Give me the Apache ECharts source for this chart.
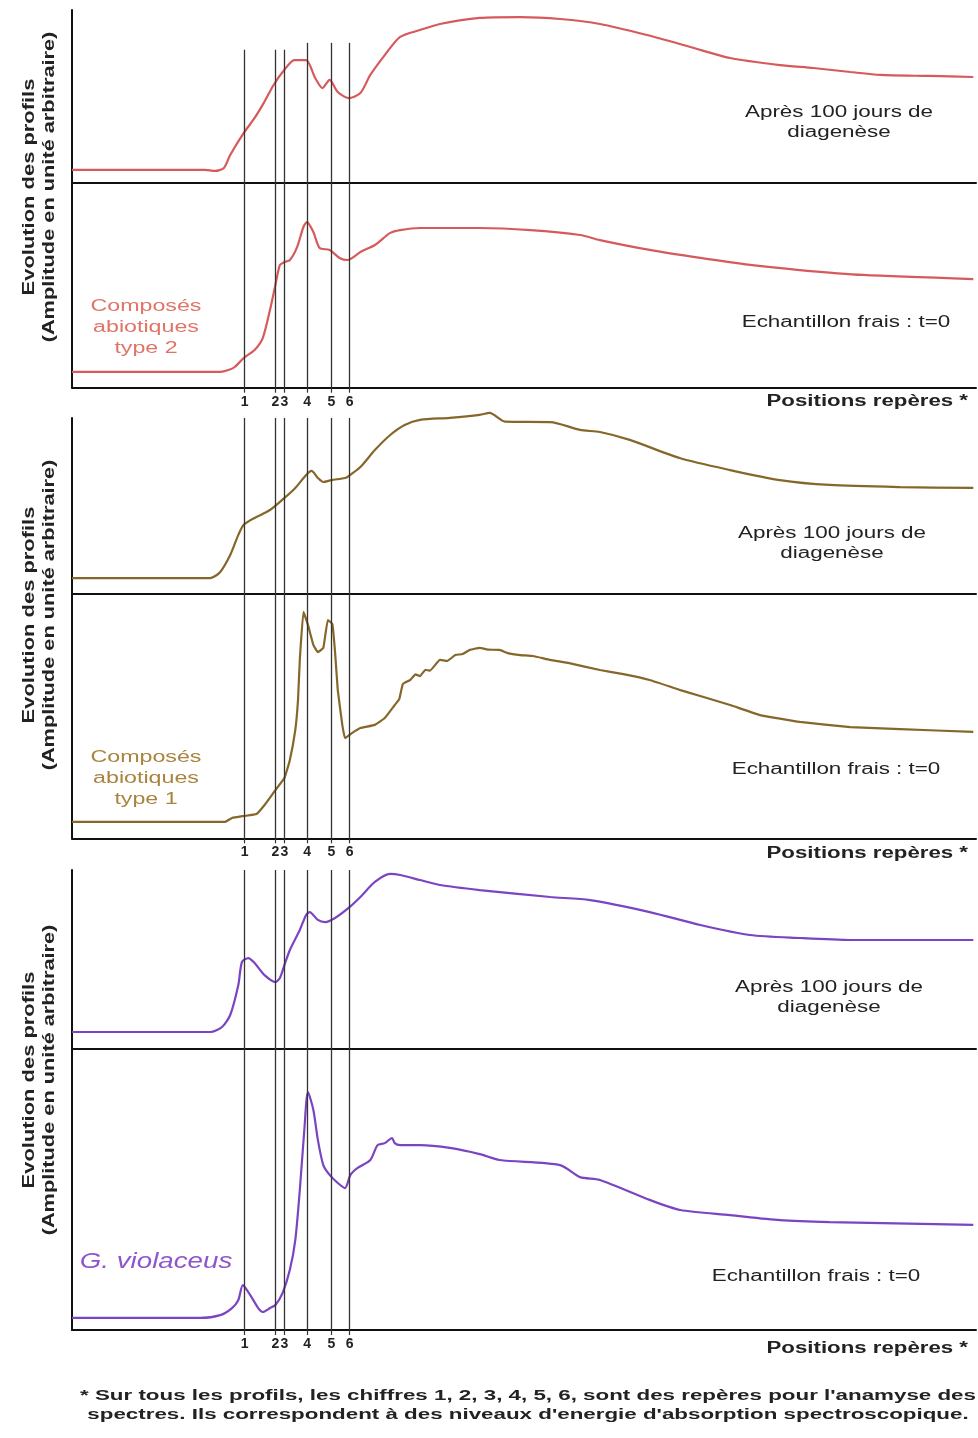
<!DOCTYPE html>
<html>
<head>
<meta charset="utf-8">
<script src="https://cdn.jsdelivr.net/npm/echarts@6/dist/echarts.min.js"></script>
<style>
html,body{margin:0;padding:0;background:#fff;}
#chart{width:978px;height:1438px;}
</style>
</head>
<body>
<div id="chart"></div>
<script>
// Reference positions (x, arbitrary position units 0-100) and their labels
const MARK_POS = [19.1, 22.5, 23.5, 26.0, 28.7, 30.7];
const MARK_LABELS = ['1', '2', '3', '4', '5', '6'];
// Top of the marker lines in the first "after" panel (amplitude units)
const MARK_TOP_P1 = [77, 77, 77, 81, 81, 81];

// Abiotic compounds type 2 – after 100 days of diagenesis
const type2After = [[0,7.4],[14.7,7.4],[15.8,6.8],[16.8,8.5],[17.5,16],[19.0,28.8],[20.2,37.5],[21.2,46.1],[22.3,56.6],[23.3,64.1],[24.6,71],[25.9,71],[26.9,60.6],[27.7,54.8],[28.5,59.5],[29.4,52.5],[30.6,49],[31.9,51.9],[33.0,62.4],[34.6,73.9],[36.3,84.4],[38.5,88.4],[40.7,91.9],[45.1,95.4],[49.6,95.9],[54.0,94.8],[58.4,91.9],[63.6,85.5],[68.4,78.6],[72.8,72.2],[78.3,68.1],[82.0,66.4],[86.1,64.1],[89.4,62.4],[94.9,61.8],[99.7,61.2]];
// Abiotic compounds type 2 – fresh sample
const type2Fresh = [[0,7.7],[16.4,7.7],[17.3,8.6],[18.0,10.1],[19.0,14.5],[20.2,18.4],[21.1,24.2],[21.9,37.9],[22.5,50.1],[23.0,59.9],[23.5,61.3],[24.1,62.3],[24.9,68.6],[25.6,78.4],[26.0,80.8],[26.7,75.9],[27.4,68.1],[28.5,67.2],[29.6,63.3],[30.5,62.3],[31.9,66.2],[33.5,69.6],[35.2,75.5],[36.3,76.9],[38.5,77.9],[45.1,77.9],[50.7,76.9],[56.2,74.5],[58.4,72.0],[63.9,67.2],[69.5,63.3],[75.0,59.9],[80.5,57.4],[87.5,55.0],[99.7,53.0]];
// Abiotic compounds type 1 – after 100 days
const type1After = [[0,8.7],[15.3,8.7],[16.4,12.2],[17.5,21.8],[18.4,33.3],[19.0,39.1],[20.2,43.0],[21.9,47.5],[23.5,54.4],[24.7,60.1],[25.9,67.5],[26.5,69.8],[27.2,65.8],[27.8,63.5],[28.7,64.6],[30.2,65.8],[30.6,66.9],[31.9,72.0],[33.5,81.7],[35.2,90.3],[36.8,96.0],[38.5,98.9],[41.8,100.1],[45.1,101.8],[46.2,102.9],[47.9,97.9],[52.9,97.7],[56.2,93.2],[58.4,92.0],[61.7,87.5],[67.3,77.0],[72.8,70.3],[78.3,64.6],[83.8,61.8],[91.6,60.6],[99.7,60.1]];
// Abiotic compounds type 1 – fresh sample
const type1Fresh = [[0,6.7],[16.9,6.7],[17.7,8.3],[19.0,9.1],[20.4,9.9],[21.3,13.6],[22.5,19.7],[23.5,24.6],[24.1,32.0],[24.7,44.2],[25.0,56.4],[25.2,72.8],[25.6,92.4],[26.1,87.1],[26.7,78.9],[27.2,76.0],[27.8,77.7],[28.3,89.1],[28.8,87.5],[29.1,76.0],[29.4,60.5],[29.9,46.3],[30.2,40.9],[31.0,43.0],[31.9,45.0],[33.5,46.3],[34.6,49.1],[35.7,54.4],[36.2,56.8],[36.6,63.0],[37.4,64.6],[38.0,66.9],[38.5,66.2],[39.1,68.8],[39.6,68.4],[40.7,72.8],[41.5,72.4],[42.4,74.8],[43.2,75.2],[44.0,76.9],[45.1,77.7],[46.0,77.0],[47.3,76.9],[48.2,75.6],[49.6,74.8],[51.0,74.4],[52.9,72.8],[55.0,71.5],[58.4,68.7],[61.0,67.0],[63.9,64.6],[67.3,60.5],[72.8,54.4],[76.1,50.3],[80.5,47.5],[86.1,45.4],[91.6,44.6],[99.7,43.4]];
// G. violaceus – after 100 days
const violAfter = [[0,9.5],[15.3,9.5],[16.6,12.3],[17.5,19.0],[18.4,35.8],[18.8,48.6],[19.5,50.8],[20.2,48.0],[21.3,41.3],[22.5,37.4],[23.0,39.7],[23.5,46.9],[24.1,55.3],[25.2,66.5],[25.9,74.9],[26.3,76.5],[27.2,72.1],[28.0,70.9],[29.1,73.2],[30.6,78.8],[31.9,84.9],[33.5,93.3],[35.2,97.8],[36.3,97.2],[38.5,94.4],[40.7,91.6],[45.1,88.8],[52.9,84.9],[57.3,83.2],[63.9,76.5],[69.5,69.3],[75.0,63.7],[80.5,62.0],[86.1,60.9],[99.7,60.9]];
// G. violaceus – fresh sample
const violFresh = [[0,4.3],[14.2,4.3],[16.4,5.3],[17.7,7.8],[18.4,10.7],[18.9,16.0],[19.7,12.5],[20.6,7.8],[21.1,6.4],[21.9,7.8],[22.5,8.9],[23.3,13.2],[24.1,21.4],[24.7,32.0],[25.2,49.8],[25.7,71.2],[26.1,84.7],[26.7,78.3],[27.2,67.6],[27.8,58.7],[28.5,55.2],[29.4,52.3],[30.2,50.5],[30.8,55.2],[31.6,57.7],[33.0,60.5],[33.8,65.8],[34.6,66.5],[35.4,68.3],[35.7,66.5],[36.3,65.8],[38.5,65.8],[41.8,64.8],[45.1,62.6],[47.3,60.5],[54.0,58.7],[56.2,54.4],[58.4,53.4],[63.9,46.3],[67.3,42.7],[72.8,40.9],[78.3,39.1],[83.8,38.4],[99.7,37.4]];

const RED = '#d65a5c', BROWN = '#85672a', PURPLE = '#7a44c2';

const grids = [
  {left:72, right:2, top:10,    height:172.7},
  {left:72, right:2, top:182.7, height:205},
  {left:72, right:2, top:418,   height:175.3},
  {left:72, right:2, top:593.3, height:245},
  {left:72, right:2, top:870,   height:179},
  {left:72, right:2, top:1049,  height:281}
];

const isLower = i => i % 2 === 1;
const xAxes = grids.map((g, i) => ({
  type:'value', gridIndex:i, min:0, max:100,
  axisLine:{show:true, onZero:false, lineStyle:{color:'#111', width:2}},
  splitLine:{show:false},
  axisTick: isLower(i) ? {show:true, customValues:MARK_POS, length:5, lineStyle:{color:'#333', width:1.2}} : {show:false},
  axisLabel: isLower(i) ? {show:true, customValues:MARK_POS, margin:7,
    formatter: v => { const k = MARK_POS.findIndex(p => Math.abs(p - v) < 1e-6); return k >= 0 ? MARK_LABELS[k] : ''; },
    color:'#222', fontSize:14, fontWeight:'bold', fontFamily:'Liberation Sans'} : {show:false}
}));
const yAxes = grids.map((g, i) => ({
  type:'value', gridIndex:i, min:0, max:100,
  axisLine:{show:true, lineStyle:{color:'#111', width:2}},
  axisTick:{show:false}, axisLabel:{show:false}, splitLine:{show:false}
}));

function markLines(i) {
  let data;
  if (i === 0) {
    data = MARK_POS.map((p, k) => [{coord:[p, MARK_TOP_P1[k]]}, {coord:[p, 0]}]);
  } else {
    data = MARK_POS.map(p => ({xAxis:p}));
  }
  return {silent:true, symbol:['none','none'], label:{show:false},
    lineStyle:{color:'#333', width:1.3, type:'solid'}, emphasis:{disabled:true}, data};
}

const curves = [
  [type2After, RED], [type2Fresh, RED],
  [type1After, BROWN], [type1Fresh, BROWN],
  [violAfter, PURPLE], [violFresh, PURPLE]
];
const series = curves.map(([d, c], i) => ({
  type:'line', xAxisIndex:i, yAxisIndex:i, data:d, showSymbol:false, symbol:'none',
  smooth: i === 3 ? 0.1 : 0.25, clip:false, z:3,
  lineStyle:{color:c, width:2.2},
  markLine: markLines(i)
}));

const FONT = 'Liberation Sans';
function txt(x, y, text, opt) {
  opt = opt || {};
  return {type:'text', x, y, rotation: opt.rot || 0, scaleX: opt.sx || 1, silent:true, z:10,
    style:{text, fill: opt.fill || '#222', textAlign: opt.align || 'center', textVerticalAlign:'middle',
      font: (opt.style || '') + ' ' + (opt.weight || 'normal') + ' ' + (opt.size || 16) + 'px "' + FONT + '"',
      lineHeight: opt.lh || 20}};
}
const graphics = [];
[187, 615, 1080].forEach(cy => {
  graphics.push(txt(30, cy, 'Evolution des profils', {rot:Math.PI/2, weight:'bold', size:16, sx:1.37}));
  graphics.push(txt(50, cy, '(Amplitude en unité arbitraire)', {rot:Math.PI/2, weight:'bold', size:16, sx:1.36}));
});
const SX = 1.4;
graphics.push(txt(839, 123, 'Après 100 jours de\ndiagenèse', {size:16, sx:SX}));
graphics.push(txt(846, 323, 'Echantillon frais : t=0', {size:16, sx:SX}));
graphics.push(txt(832, 544, 'Après 100 jours de\ndiagenèse', {size:16, sx:SX}));
graphics.push(txt(836, 770, 'Echantillon frais : t=0', {size:16, sx:SX}));
graphics.push(txt(829, 998, 'Après 100 jours de\ndiagenèse', {size:16, sx:SX}));
graphics.push(txt(816, 1277, 'Echantillon frais : t=0', {size:16, sx:SX}));
[402, 854, 1349].forEach(y => graphics.push(txt(968, y, 'Positions repères *', {align:'right', weight:'bold', size:16, sx:1.39})));
graphics.push(txt(146, 328, 'Composés\nabiotiques\ntype 2', {fill:'#e07466', size:16, lh:21, sx:1.45}));
graphics.push(txt(146, 779, 'Composés\nabiotiques\ntype 1', {fill:'#a8843f', size:16, lh:21, sx:1.45}));
graphics.push(txt(156, 1262, 'G. violaceus', {fill:'#8f55cf', size:22, style:'italic', sx:1.26}));
graphics.push(txt(528, 1396, "* Sur tous les profils, les chiffres 1, 2, 3, 4, 5, 6, sont des repères pour l'anamyse des", {weight:'bold', size:15, sx:1.49}));
graphics.push(txt(528, 1415, "spectres. Ils correspondent à des niveaux d'energie d'absorption spectroscopique.", {weight:'bold', size:15, sx:1.49}));

const chart = echarts.init(document.getElementById('chart'), null, {renderer:'canvas'});
chart.setOption({
  animation:false,
  backgroundColor:'#fff',
  grid:grids, xAxis:xAxes, yAxis:yAxes, series,
  graphic:graphics
});
</script>
</body>
</html>
